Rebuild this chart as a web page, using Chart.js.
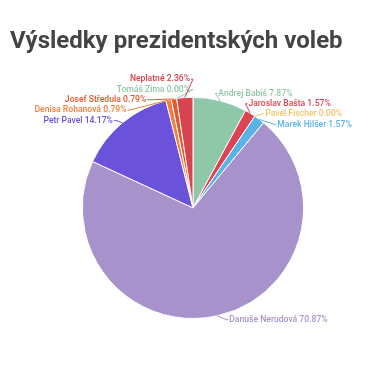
<!DOCTYPE html>
<html>
<head>
<meta charset="utf-8">
<script src="https://cdn.jsdelivr.net/npm/chart.js@4"></script>
<style>
    html, body { margin: 0; padding: 0; background: #fff; }
    #wrap { width: 376px; height: 376px; position: relative; }
</style>
</head>
<body>
<div id="wrap"><canvas id="pie"></canvas></div>
<script>
    const candidates = ['Andrej Babiš', 'Jaroslav Bašta', 'Pavel Fischer', 'Marek Hilšer', 'Danuše Nerudová',
        'Petr Pavel', 'Denisa Rohanová', 'Josef Středula', 'Tomáš Zima', 'Neplatné'];
    const shares = [7.87, 1.57, 0.00, 1.57, 70.87, 14.17, 0.79, 0.79, 0.00, 2.36];
    const colors = ['#8fc7a9', '#dc4454', '#f2c567', '#5ab3e6', '#a892cb',
        '#6b52da', '#f27d3c', '#e5572e', '#8fc7a9', '#d9434f'];

    const FONT = 'Roboto, "Noto Sans", sans-serif';

    // outside labels with leader lines, spread vertically so they do not overlap
    const outLabels = {
        id: 'outLabels',
        afterDatasetsDraw(chart) {
            const meta = chart.getDatasetMeta(0);
            const ctx = chart.ctx;
            const gap = 10.3, dist = 4;
            const items = meta.data.map(function(arc, i) {
                const p = arc.getProps(['x', 'y', 'startAngle', 'endAngle', 'outerRadius'], true);
                const mid = (p.startAngle + p.endAngle) / 2;
                const R = p.outerRadius;
                return {
                    i: i, cx: p.x, cy: p.y, R: R, mid: mid,
                    right: Math.cos(mid) >= 0,
                    ex: p.x + Math.cos(mid) * R, ey: p.y + Math.sin(mid) * R,
                    ny: p.y + Math.sin(mid) * (R + dist)
                };
            });

            [true, false].forEach(function(side) {
                const list = items.filter(function(it) { return it.right === side; })
                    .sort(function(a, b) { return a.ny - b.ny; });
                let groups = list.map(function(it) { return { items: [it] }; });
                function place(g) {
                    const mean = g.items.reduce(function(s, it) { return s + it.ny; }, 0) / g.items.length;
                    g.top = mean - gap * (g.items.length - 1) / 2;
                    g.bottom = g.top + gap * (g.items.length - 1);
                }
                groups.forEach(place);
                let merged = true;
                while (merged) {
                    merged = false;
                    for (let k = 0; k < groups.length - 1; k++) {
                        if (groups[k].bottom + gap > groups[k + 1].top) {
                            groups[k].items = groups[k].items.concat(groups[k + 1].items);
                            place(groups[k]);
                            groups.splice(k + 1, 1);
                            merged = true;
                            break;
                        }
                    }
                }
                groups.forEach(function(g) {
                    g.items.forEach(function(it, n) { it.y = g.top + n * gap; });
                });
            });

            ctx.save();
            ctx.font = '500 8.6px ' + FONT;
            ctx.textBaseline = 'middle';
            items.forEach(function(it) {
                const Rl = it.R + 6;
                const dy = it.y - it.cy;
                const dx = Math.sqrt(Math.max(0, Rl * Rl - dy * dy));
                const sgn = it.right ? 1 : -1;
                const lx = it.cx + sgn * dx;
                const col = colors[it.i];
                ctx.strokeStyle = col;
                ctx.lineWidth = 1;
                ctx.beginPath();
                ctx.moveTo(it.ex, it.ey);
                ctx.lineTo(lx, it.y);
                ctx.lineTo(lx + sgn * 2, it.y);
                ctx.stroke();
                ctx.fillStyle = col;
                ctx.textAlign = it.right ? 'left' : 'right';
                const txt = candidates[it.i] + ' ' + shares[it.i].toFixed(2) + '%';
                ctx.fillText(txt, lx + sgn * 3, it.y);
            });
            ctx.restore();
        }
    };

    new Chart(document.getElementById('pie'), {
        type: 'pie',
        data: {
            labels: candidates,
            datasets: [{
                data: shares,
                backgroundColor: colors,
                borderColor: '#ffffff',
                borderWidth: 1
            }]
        },
        options: {
            responsive: true,
            maintainAspectRatio: false,
            animation: false,
            layout: { padding: { top: 0, bottom: 57, left: 10, right: 0 } },
            plugins: {
                legend: { display: false },
                tooltip: { enabled: false },
                title: {
                    display: true,
                    text: 'Výsledky prezidentských voleb',
                    align: 'start',
                    color: '#444444',
                    font: { family: FONT, size: 24, weight: 'bold', lineHeight: 1.2 },
                    padding: { top: 28, bottom: 40 }
                }
            }
        },
        plugins: [outLabels]
    });
</script>
</body>
</html>
